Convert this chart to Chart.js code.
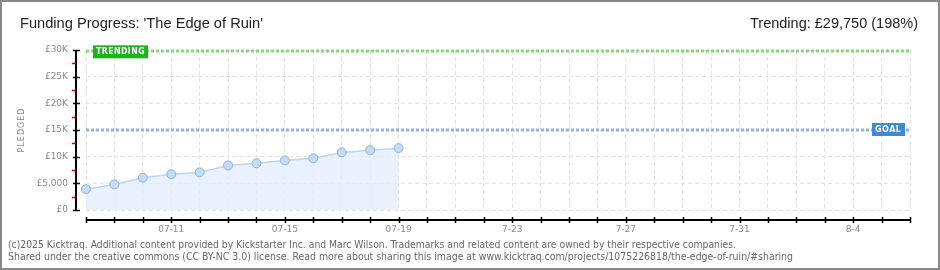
<!DOCTYPE html>
<html><head><meta charset="utf-8">
<script src="https://cdn.jsdelivr.net/npm/chart.js@4/dist/chart.umd.min.js"></script>
<style>html,body{margin:0;padding:0;background:#fff;}canvas{display:block;}</style>
</head><body><canvas id="c" width="940" height="270"></canvas>
<script>
// ---- data ----
const days = ['07-08','07-09','07-10','07-11','07-12','07-13','07-14','07-15','07-16','07-17','07-18','07-19','07-20','07-21','07-22','07-23','07-24','07-25','07-26','07-27','07-28','07-29','07-30','07-31','08-01','08-02','08-03','08-04','08-05','08-06'];
const pledged = [3900, 4800, 6050, 6700, 7050, 8350, 8750, 9300, 9700, 10800, 11200, 11600];
const xTickDays = ['07-11','07-15','07-19','07-23','07-27','07-31','08-04'];
const xTickLabels = ['07-11','07-15','07-19','7-23','7-27','7-31','8-4'];
const yTickValues = [0, 5000, 10000, 15000, 20000, 25000, 30000];
const yTickLabels = ['£0','£5,000','£10K','£15K','£20K','£25K','£30K'];
const goal = 15000;
const trending = 29750;
const titleText = "Funding Progress: 'The Edge of Ruin'";
const trendText = 'Trending: £29,750 (198%)';
const footer1 = '(c)2025 Kicktraq. Additional content provided by Kickstarter Inc. and Marc Wilson. Trademarks and related content are owned by their respective companies.';
const footer2 = 'Shared under the creative commons (CC BY-NC 3.0) license. Read more about sharing this image at www.kicktraq.com/projects/1075226818/the-edge-of-ruin/#sharing';

const decor = {
  id: 'decor',
  beforeDatasetsDraw(chart) {
    const ctx = chart.ctx, a = chart.chartArea, y = chart.scales.y;
    ctx.save();
    ctx.lineWidth = 3;
    ctx.setLineDash([3, 2]);
    ctx.strokeStyle = '#86d878';
    let py = Math.round(y.getPixelForValue(trending));
    ctx.beginPath(); ctx.moveTo(a.left, py); ctx.lineTo(a.right, py); ctx.stroke();
    ctx.strokeStyle = '#93b4dc';
    py = Math.round(y.getPixelForValue(goal));
    ctx.beginPath(); ctx.moveTo(a.left, py); ctx.lineTo(a.right, py); ctx.stroke();
    ctx.restore();
  },
  afterDraw(chart) {
    const ctx = chart.ctx, a = chart.chartArea, x = chart.scales.x, y = chart.scales.y;
    ctx.save();
    // labels on reference lines
    const box = (bx, by, w, h, col, txt) => {
      ctx.fillStyle = col;
      ctx.fillRect(bx, by, w, h);
      ctx.fillStyle = '#fff';
      ctx.font = 'bold 8px "DejaVu Sans"';
      ctx.letterSpacing = '0.5px';
      ctx.textBaseline = 'middle';
      ctx.textAlign = 'left';
      ctx.fillText(txt, bx + 3, by + h / 2 + 0.5, w - 6);
      ctx.letterSpacing = '0px';
    };
    let ty = y.getPixelForValue(trending);
    box(a.left + 7, ty - 6, 55, 13, '#1db31a', 'TRENDING');
    let gy = y.getPixelForValue(goal);
    box(a.right - 38, gy - 7, 33, 13, '#3f8ad8', 'GOAL');

    // y axis line + ticks
    ctx.strokeStyle = '#000';
    ctx.lineWidth = 2;
    const ax = a.left - 10;
    ctx.beginPath(); ctx.moveTo(ax, a.top); ctx.lineTo(ax, a.bottom + 1); ctx.stroke();
    ctx.lineWidth = 1.5;
    for (const v of yTickValues) {
      const p = Math.round(y.getPixelForValue(v)) + 0.5;
      ctx.beginPath(); ctx.moveTo(ax - 3, p); ctx.lineTo(ax + 4, p); ctx.stroke();
    }
    ctx.strokeStyle = '#e00000';
    ctx.lineWidth = 1.5;
    for (let i = 0; i < yTickValues.length - 1; i++) {
      const v = (yTickValues[i] + yTickValues[i + 1]) / 2;
      const p = Math.round(y.getPixelForValue(v)) + 0.5;
      ctx.beginPath(); ctx.moveTo(ax - 4, p); ctx.lineTo(ax - 1, p); ctx.stroke();
    }
    // x axis line + ticks
    ctx.strokeStyle = '#000';
    ctx.lineWidth = 2;
    const ay = a.bottom + 10;
    ctx.beginPath(); ctx.moveTo(a.left, ay); ctx.lineTo(a.right, ay); ctx.stroke();
    ctx.lineWidth = 1.5;
    for (let i = 0; i < days.length; i++) {
      const p = Math.round(x.getPixelForValue(i)) + 0.5;
      ctx.beginPath(); ctx.moveTo(p, ay - 3); ctx.lineTo(p, ay + 3); ctx.stroke();
    }
    // PLEDGED
    ctx.save();
    ctx.translate(22, (a.top + a.bottom) / 2);
    ctx.rotate(-Math.PI / 2);
    ctx.fillStyle = '#888';
    ctx.font = '8px "DejaVu Sans"';
    ctx.letterSpacing = '1px';
    ctx.textAlign = 'center';
    ctx.textBaseline = 'middle';
    ctx.fillText('PLEDGED', 0, 0);
    ctx.restore();
    // titles
    ctx.fillStyle = '#222';
    ctx.textBaseline = 'alphabetic';
    ctx.font = '15px "Liberation Sans"';
    ctx.textAlign = 'left';
    ctx.fillText(titleText, 20, 28, 243);
    ctx.textAlign = 'right';
    ctx.fillText(trendText, 918, 28, 168);
    // footer
    ctx.fillStyle = '#666';
    ctx.textAlign = 'left';
    ctx.font = '10.5px "DejaVu Sans Condensed", "DejaVu Sans"';
    ctx.fillText(footer1, 8, 248, 728);
    ctx.fillText(footer2, 8, 260, 785);
    // border
    ctx.strokeStyle = '#888';
    ctx.lineWidth = 2;
    ctx.strokeRect(1, 1, 938, 268);
    ctx.restore();
  }
};

new Chart(document.getElementById('c'), {
  type: 'line',
  data: {
    labels: days,
    datasets: [{
      data: pledged,
      borderColor: '#bcd6f2',
      borderWidth: 1.5,
      backgroundColor: 'rgba(226,237,251,0.75)',
      fill: 'origin',
      tension: 0,
      pointRadius: 4.5,
      pointBackgroundColor: '#c2dcf6',
      pointBorderColor: '#8fb0d6',
      pointBorderWidth: 1
    }]
  },
  options: {
    responsive: false,
    animation: false,
    devicePixelRatio: 1,
    layout: { padding: { top: 50, right: 30, left: 0, bottom: 0 } },
    plugins: { legend: { display: false }, title: { display: false }, tooltip: { enabled: false } },
    scales: {
      x: {
        type: 'category',
        offset: false,
        grid: { color: '#e2e2e2', drawTicks: false, lineWidth: 1 },
        border: { display: false, dash: [4, 3] },
        ticks: {
          autoSkip: false, maxRotation: 0, padding: 14, color: '#888',
          font: { family: 'DejaVu Sans', size: 9 },
          callback: (v, i) => { const k = xTickDays.indexOf(days[i]); return k >= 0 ? xTickLabels[k] : ''; }
        },
        afterFit: s => { s.height = 60; }
      },
      y: {
        min: 0, max: 30000,
        grid: { color: '#e2e2e2', drawTicks: false, lineWidth: 1 },
        border: { display: false, dash: [4, 3] },
        ticks: {
          stepSize: 5000, padding: 18, color: '#888',
          font: { family: 'DejaVu Sans', size: 9 },
          callback: v => { const k = yTickValues.indexOf(v); return k >= 0 ? yTickLabels[k] : ''; }
        },
        afterFit: s => { s.width = 86; }
      }
    }
  },
  plugins: [decor]
});
</script>
</body></html>
